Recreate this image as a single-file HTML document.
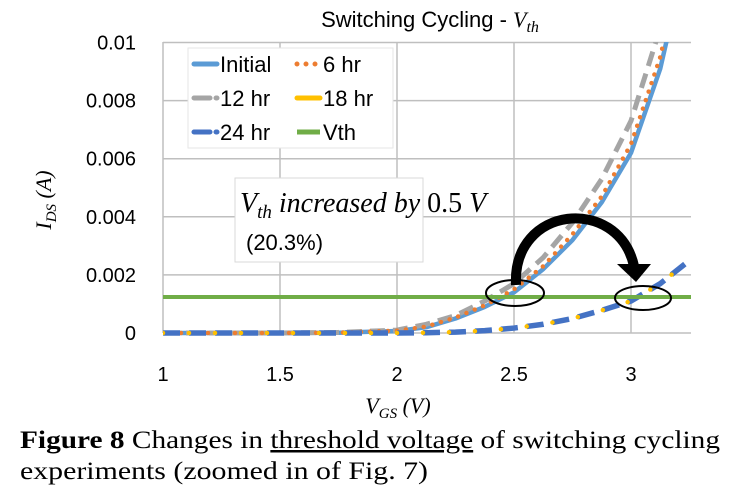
<!DOCTYPE html>
<html><head><meta charset="utf-8"><style>
body{margin:0;background:#fff;width:755px;height:496px;overflow:hidden;font-family:"Liberation Sans",sans-serif}
svg{position:absolute;left:0;top:0}
</style></head><body>
<svg width="755" height="496" id="chart">
<defs><clipPath id="pc"><rect x="163" y="42" width="528" height="294"/></clipPath></defs>
<g font-family="Liberation Serif, serif" font-size="25" fill="#000">
<text x="20" y="448" textLength="700" lengthAdjust="spacingAndGlyphs"><tspan font-weight="bold">Figure 8</tspan> Changes in <tspan text-decoration="underline">threshold voltage</tspan> of switching cycling</text>
<text x="20" y="479" textLength="408" lengthAdjust="spacingAndGlyphs">experiments (zoomed in of Fig. 7)</text>
</g>
</svg>
<script>
const vgs=[1,1.5,1.75,2,2.125,2.25,2.375,2.5,2.625,2.75,2.875,3,3.125,3.25];
const initial=[0,0,0.00001,0.00007,0.0002,0.0005,0.0009,0.0014,0.0022,0.0032,0.0045,0.0062,0.0091,0.0135];
const hr6=[0,0,0.00001,0.00008,0.00022,0.00053,0.00095,0.0015,0.0023,0.0034,0.0047,0.0065,0.0095,0.014];
const hr12=[0,0,0.00002,0.0001,0.0003,0.0006,0.0011,0.0017,0.0026,0.0038,0.0053,0.0073,0.0105,0.016];
const hr18=[0,0,0,0,0.00001,0.00003,0.00008,0.00017,0.0003,0.0005,0.00078,0.0011,0.0017,0.0025];
const hr24=[0,0,0,0,0.00001,0.00003,0.00008,0.00017,0.0003,0.0005,0.00078,0.0011,0.0017,0.0025];
const vth=0.00124;
const yTicks=[0,0.002,0.004,0.006,0.008,0.01];
const yTickLabels=["0","0.002","0.004","0.006","0.008","0.01"];
const xTicks=[1,1.5,2,2.5,3];
const xTickLabels=["1","1.5","2","2.5","3"];
const NS="http://www.w3.org/2000/svg";
const svg=document.getElementById('chart');
const X=v=>163+(v-1)*234;
const Y=v=>333-v*29050;
function mk(t,a,p){const e=document.createElementNS(NS,t);for(const k in a)e.setAttribute(k,a[k]);(p||svg).appendChild(e);return e;}
function txt(s,a){const e=mk('text',a);e.textContent=s;return e;}
const tt=txt('Switching Cycling - ',{x:430,y:27,'text-anchor':'middle','font-size':22,fill:'#000'});


const ts=mk('tspan',{'font-family':'Liberation Serif,serif','font-style':'italic'},tt);ts.textContent='V';
const ts2=mk('tspan',{'font-family':'Liberation Serif,serif','font-style':'italic','font-size':16,dy:5},tt);ts2.textContent='th';
yTicks.forEach((t,i)=>{const l=mk('line',{x1:163,x2:691,y1:Y(t),y2:Y(t),stroke:'#bfbfbf','stroke-width':1.5});


const tl=txt(yTickLabels[i],{x:136,y:Y(t)+7,'text-anchor':'end','font-size':20,fill:'#000'});

});
xTicks.forEach((t,i)=>{const l=mk('line',{x1:X(t),x2:X(t),y1:42,y2:333,stroke:'#bfbfbf','stroke-width':1.5});


const tl=txt(xTickLabels[i],{x:X(t),y:381,'text-anchor':'middle','font-size':20,fill:'#000'});

});
const xt=txt('',{x:398,y:413,'text-anchor':'middle','font-size':22,'font-family':'Liberation Serif,serif','font-style':'italic'});


xt.innerHTML='V<tspan font-size="15" dy="5">GS</tspan><tspan dy="-5"> (V)</tspan>';
const yt=txt('',{x:0,y:0,'text-anchor':'middle','font-size':22,'font-family':'Liberation Serif,serif','font-style':'italic',transform:'translate(51,200) rotate(-90)'});


yt.innerHTML='I<tspan font-size="15" dy="5">DS</tspan><tspan dy="-5"> (A)</tspan>';
const g=mk('g',{'clip-path':'url(#pc)'});
function series(d,color,w,dash,name,cap){const p=d.map((v,i)=>(i?'L':'M')+X(vgs[i])+','+Y(v)).join('');
const e=mk('path',{d:p,fill:'none',stroke:color,'stroke-width':w,'stroke-dasharray':dash,'stroke-linecap':cap||'butt','stroke-linejoin':'round'},g);

}
series(initial,'#5b9bd5',4.5,'none','series-initial');
series(hr12,'#a5a5a5',5,'15 8','series-12hr');
series(hr6,'#ed7d31',4.5,'0 9','series-6hr','round');
series(hr24,'#4472c4',5.5,'17 9','series-24hr');
series(hr18,'#ffc000',4.5,'0 26','series-18hr','round');
const vl=mk('line',{x1:163,x2:691,y1:Y(vth),y2:Y(vth),stroke:'#70ad47','stroke-width':4},g);


const lg=mk('g',{});


mk('rect',{x:188,y:48,width:205,height:100,fill:'#fff',stroke:'#e6e6e6'},lg);
const items=[['Initial','#5b9bd5','none',192,64,'round'],['6 hr','#ed7d31','0 9',295,64,'round'],['12 hr','#a5a5a5','16 6',192,98,'round'],['18 hr','#ffc000','none',295,98,'round'],['24 hr','#4472c4','16 6',192,132,'round'],['Vth','#70ad47','none',295,132,'butt']];
items.forEach(it=>{const e=mk('line',{x1:it[3]+2,x2:it[3]+25,y1:it[4],y2:it[4],stroke:it[1],'stroke-width':5,'stroke-dasharray':it[2],'stroke-linecap':it[5]},lg);


const t=txt(it[0],{x:it[3]+28,y:it[4]+8,'font-size':22,fill:'#000'});

});
const ab=mk('rect',{x:235,y:178,width:188,height:84,fill:'#fff',stroke:'#d9d9d9'});


const at=txt('',{x:240,y:212,'font-size':28,'font-family':'Liberation Serif,serif','font-style':'italic',fill:'#000'});


at.innerHTML='V<tspan font-size="19" dy="6">th</tspan><tspan dy="-6"> increased by </tspan><tspan font-style="normal">0.5</tspan> V';
const at2=txt('(20.3%)',{x:246,y:250,'font-size':22,fill:'#000'});


const arr=mk('path',{d:'M516,285 C512,205 618,195 634,266',fill:'none',stroke:'#000','stroke-width':10});


mk('polygon',{points:'617,264 651,264 636,282',fill:'#000'});
[[515,293,29,13],[643,298,28,12]].forEach(c=>{const e=mk('ellipse',{cx:c[0],cy:c[1],rx:c[2],ry:c[3],fill:'none',stroke:'#000','stroke-width':2});

});
</script>
</body></html>
